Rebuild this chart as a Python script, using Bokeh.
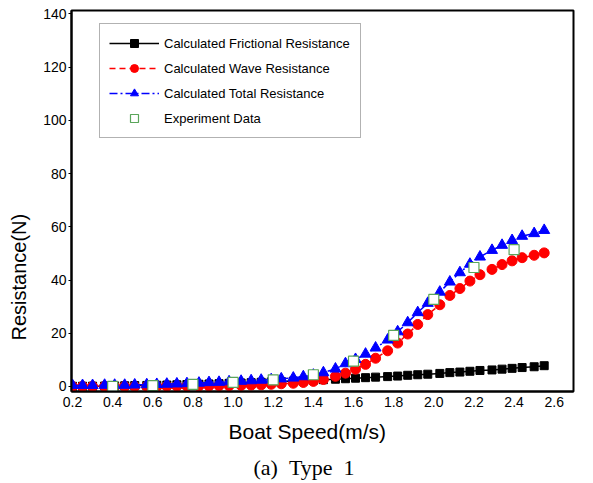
from bokeh.plotting import figure
from bokeh.models import (Legend, LegendItem, Title, FixedTicker, PrintfTickFormatter, Range1d)
from bokeh.embed import file_html
from bokeh.resources import INLINE

# ---- data ----
speed = [0.20, 0.25, 0.30, 0.36, 0.41, 0.46, 0.51, 0.57, 0.62, 0.67,
         0.72, 0.77, 0.83, 0.88, 0.93, 0.98, 1.04, 1.09, 1.14, 1.19,
         1.24, 1.30, 1.35, 1.40, 1.45, 1.51, 1.56, 1.61, 1.66, 1.71,
         1.77, 1.82, 1.87, 1.92, 1.97, 2.03, 2.08, 2.13, 2.18, 2.23,
         2.29, 2.34, 2.39, 2.44, 2.50, 2.55]
frictional = [0.05, 0.08, 0.11, 0.15, 0.20, 0.26, 0.32, 0.38, 0.46, 0.54,
              0.63, 0.72, 0.82, 0.93, 1.04, 1.16, 1.29, 1.42, 1.56, 1.71,
              1.86, 2.02, 2.18, 2.36, 2.53, 2.72, 2.9, 3.1, 3.3, 3.5,
              3.7, 3.9, 4.2, 4.4, 4.6, 4.9, 5.2, 5.4, 5.7, 6.0,
              6.2, 6.5, 6.8, 7.1, 7.4, 7.8]
wave = [0.0, 0.0, 0.0, 0.0, 0.0, 0.0, 0.0, 0.0, 0.0, 0.1,
        0.1, 0.1, 0.2, 0.2, 0.3, 0.3, 0.4, 0.5, 0.6, 0.8,
        1.0, 1.2, 1.5, 1.9, 2.6, 3.8, 5.0, 6.5, 8.3, 10.6,
        13.4, 16.3, 19.7, 23.3, 27.0, 30.7, 34.2, 36.8, 39.6, 42.0,
        44.0, 45.8, 47.2, 48.4, 49.3, 50.2]
total = [0.4, 0.4, 0.4, 0.5, 0.5, 0.5, 0.6, 0.7, 0.8, 0.9,
         1.0, 1.1, 1.3, 1.5, 1.6, 1.8, 2.0, 2.2, 2.4, 2.6,
         2.9, 3.2, 3.7, 4.3, 5.2, 6.6, 8.6, 10.2, 12.2, 14.5,
         17.5, 20.6, 24.0, 27.8, 31.3, 35.5, 39.3, 42.8, 46.0, 48.7,
         51.2, 53.1, 54.9, 56.5, 57.5, 58.7]
exp_speed = [0.4, 0.6, 0.8, 1.0, 1.2, 1.4, 1.6, 1.8, 2.0, 2.2, 2.4]
exp_resistance = [0.0, 0.3, 0.8, 1.5, 2.5, 4.4, 9.5, 19.2, 32.7, 44.7, 51.4]

x_ticks = [0.2, 0.4, 0.6, 0.8, 1.0, 1.2, 1.4, 1.6, 1.8, 2.0, 2.2, 2.4, 2.6]
y_ticks = [0, 20, 40, 60, 80, 100, 120, 140]

FONT = "Liberation Sans"

p = figure(width=593, height=483, output_backend="svg", toolbar_location=None,
           x_range=Range1d(0.195, 2.696), y_range=Range1d(-1.9, 141.3),
           min_border_left=71, min_border_right=20, min_border_top=10,
           min_border_bottom=92)
p.xgrid.visible = False
p.ygrid.visible = False
p.outline_line_color = "black"
p.outline_line_width = 2
p.background_fill_color = "white"
p.border_fill_color = "white"

for ax in (p.xaxis[0], p.yaxis[0]):
    ax.axis_line_width = 2
    ax.axis_line_color = "black"
    ax.major_label_text_font = FONT
    ax.major_label_text_font_size = "14px"
    ax.major_label_text_color = "black"
    ax.minor_tick_line_color = None
    ax.major_tick_in = 0
p.xaxis[0].ticker = FixedTicker(ticks=x_ticks)
p.xaxis[0].formatter = PrintfTickFormatter(format="%.1f")
p.xaxis[0].major_tick_out = 0
p.xaxis[0].major_label_standoff = 5
p.yaxis[0].ticker = FixedTicker(ticks=y_ticks)
p.yaxis[0].major_tick_out = 3
p.yaxis[0].major_label_standoff = 2
# blank spacer label to push the y title outward
p.yaxis[0].axis_label = "\u00a0"
p.yaxis[0].axis_label_text_font_size = "2px"
p.yaxis[0].axis_label_standoff = 3

# series
fl = p.line(speed, frictional, line_color="black", line_width=1.5)
fm = p.scatter(speed, frictional, marker="square", size=8, color="black")
wl = p.line(speed, wave, line_color="red", line_width=1.5, line_dash="6 4")
wm = p.scatter(speed, wave, marker="circle", size=10, color="red")
tl = p.line(speed, total, line_color="blue", line_width=1.5, line_dash="8 3 2 3")
tm = p.scatter(speed, total, marker="triangle", size=11, color="blue")
em = p.scatter(exp_speed, exp_resistance, marker="square", size=10,
               fill_color="white", line_color="#5aa55a", line_width=1.2)

legend = Legend(items=[
    LegendItem(label="Calculated Frictional Resistance", renderers=[fl, fm]),
    LegendItem(label="Calculated Wave Resistance", renderers=[wl, wm]),
    LegendItem(label="Calculated Total Resistance", renderers=[tl, tm]),
    LegendItem(label="Experiment Data", renderers=[em]),
], location=(28, 253))
legend.label_text_font = FONT
legend.label_text_font_size = "13px"
legend.label_text_color = "black"
legend.border_line_color = "#666666"
legend.border_line_width = 1
legend.background_fill_alpha = 1
legend.glyph_width = 50
legend.glyph_height = 20
legend.spacing = 5
legend.padding = 9
legend.margin = 0
legend.label_standoff = 5
legend.label_width = 187
p.add_layout(legend, "center")

xlab = Title(text="Boat Speed(m/s)", align="left", offset=157, standoff=16,
             text_font=FONT, text_font_size="21px", text_font_style="normal",
             text_color="black")
p.add_layout(xlab, "below")
cap = Title(text="(a)\u00a0\u00a0Type\u00a0\u00a01", align="left", offset=182, standoff=4,
            text_font="Liberation Serif", text_font_size="22px",
            text_font_style="normal", text_color="black")
p.add_layout(cap, "below")
ylab = Title(text="Resistance(N)", align="left", offset=51, standoff=4,
             text_font=FONT, text_font_size="20px", text_font_style="normal",
             text_color="black")
p.add_layout(ylab, "left")

open("out.html", "w").write(file_html(p, INLINE))
